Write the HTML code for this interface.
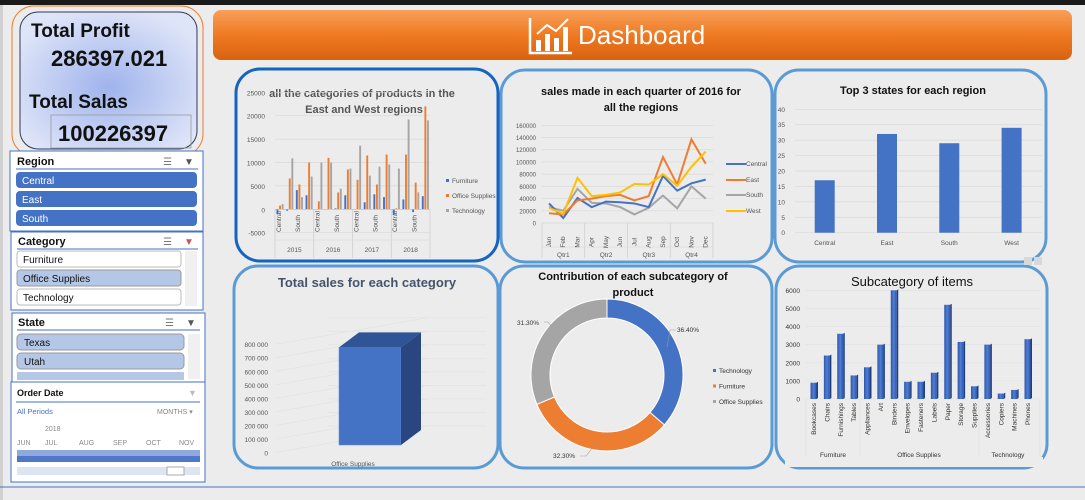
<!DOCTYPE html>
<html><head><meta charset="utf-8">
<style>
html,body{margin:0;padding:0;background:#ececec;width:1085px;height:500px;overflow:hidden;font-family:"Liberation Sans",sans-serif}
svg{display:block}
</style></head>
<body>
<svg id="s" width="1085" height="500" viewBox="0 0 1085 500" xmlns="http://www.w3.org/2000/svg" font-family="Liberation Sans, sans-serif">
<defs>
<linearGradient id="og" x1="0" y1="0" x2="0" y2="1"><stop offset="0" stop-color="#f7a05a"/><stop offset="0.5" stop-color="#ef7a22"/><stop offset="1" stop-color="#d9620f"/></linearGradient>
<radialGradient id="kg" cx="0.5" cy="0.55" r="0.6"><stop offset="0" stop-color="#9fb3ec"/><stop offset="1" stop-color="#dfe5f8"/></radialGradient>
<linearGradient id="bg3" x1="0" y1="0" x2="1" y2="0"><stop offset="0" stop-color="#2d55a8"/><stop offset="0.5" stop-color="#4f7fd6"/><stop offset="1" stop-color="#2d55a8"/></linearGradient>
</defs>
<rect x="0" y="0" width="1085" height="5" fill="#1a1a1a"/>
<rect x="0" y="5" width="3" height="495" fill="#d0d0d0"/>
<line x1="0" y1="487" x2="1085" y2="487" stroke="#4472c4" stroke-width="1"/>

<!-- KPI -->
<rect x="12" y="6" width="191" height="150" rx="22" fill="none" stroke="#ed7d31" stroke-width="1"/>
<rect x="20" y="12" width="177" height="137" rx="18" fill="url(#kg)" stroke="#2f3b5a" stroke-width="1"/>
<text x="31" y="37" font-size="19" font-weight="bold" fill="#111">Total Profit</text>
<text x="51" y="66" font-size="22" font-weight="bold" fill="#111">286397.021</text>
<text x="29" y="108" font-size="19" font-weight="bold" fill="#111">Total Salas</text>
<rect x="51" y="115" width="140" height="33" fill="none" stroke="#9a9a9a" stroke-width="0.8"/>
<text x="58" y="141" font-size="22" font-weight="bold" fill="#111">100226397</text>

<!-- Header -->
<rect x="213" y="10" width="859" height="50" rx="8" fill="url(#og)"/>
<g stroke="#fff" fill="none" stroke-width="2.5">
<polyline points="530,18 530,53 572,53"/>
<rect x="536" y="40" width="5" height="11" fill="#fff" stroke="none"/>
<rect x="545" y="34" width="5" height="17" fill="#fff" stroke="none"/>
<rect x="554" y="38" width="5" height="13" fill="#fff" stroke="none"/>
<rect x="563" y="27" width="5" height="24" fill="#fff" stroke="none"/>
<polyline points="537,34 547,25 556,31 568,19" stroke-width="2"/>
</g>
<text x="578" y="44" font-size="26" fill="#fff">Dashboard</text>

<!-- Region slicer -->
<g>
<rect x="10" y="151" width="193" height="80" fill="#fff" stroke="#4472c4"/>
<text x="17" y="165" font-size="11" font-weight="bold" fill="#111">Region</text>
<text x="163" y="165" font-size="10" fill="#777">☰</text><text x="184" y="165" font-size="10" fill="#555">▼</text>
<line x1="16" y1="169" x2="198" y2="169" stroke="#4472c4"/>
<rect x="16" y="172" width="181" height="16" rx="4" fill="#4472c4"/>
<text x="22" y="184" font-size="10" fill="#fff">Central</text>
<rect x="16" y="191" width="181" height="16" rx="4" fill="#4472c4"/>
<text x="22" y="203" font-size="10" fill="#fff">East</text>
<rect x="16" y="210" width="181" height="16" rx="4" fill="#4472c4"/>
<text x="22" y="222" font-size="10" fill="#fff">South</text>
</g>
<!-- Category slicer -->
<g>
<rect x="11" y="232" width="192" height="78" fill="#fff" stroke="#4472c4"/>
<text x="18" y="245" font-size="11" font-weight="bold" fill="#111">Category</text>
<text x="163" y="245" font-size="10" fill="#777">☰</text><text x="184" y="245" font-size="10" fill="#c55">▼</text>
<line x1="17" y1="249" x2="198" y2="249" stroke="#4472c4"/>
<rect x="17" y="251" width="164" height="16" rx="3" fill="#fff" stroke="#bbb"/>
<text x="23" y="263" font-size="10" fill="#111">Furniture</text>
<rect x="17" y="270" width="164" height="16" rx="3" fill="#b4c7e7" stroke="#999"/>
<text x="23" y="282" font-size="10" fill="#111">Office Supplies</text>
<rect x="17" y="289" width="164" height="16" rx="3" fill="#fff" stroke="#bbb"/>
<text x="23" y="301" font-size="10" fill="#111">Technology</text>
<rect x="185" y="251" width="12" height="55" fill="#f0f0f0"/>
</g>
<!-- State slicer -->
<g>
<rect x="12" y="313" width="193" height="69" fill="#fff" stroke="#4472c4"/>
<text x="18" y="326" font-size="11" font-weight="bold" fill="#111">State</text>
<text x="165" y="326" font-size="10" fill="#777">☰</text><text x="186" y="326" font-size="10" fill="#555">▼</text>
<line x1="17" y1="330" x2="200" y2="330" stroke="#4472c4"/>
<rect x="17" y="334" width="167" height="16" rx="4" fill="#b4c7e7" stroke="#999"/>
<text x="24" y="346" font-size="10" fill="#111">Texas</text>
<rect x="17" y="353" width="167" height="16" rx="4" fill="#b4c7e7" stroke="#999"/>
<text x="24" y="365" font-size="10" fill="#111">Utah</text>
<rect x="17" y="372" width="167" height="8" fill="#b4c7e7"/>
<rect x="188" y="334" width="12" height="45" fill="#f0f0f0"/>
</g>
<!-- Order date timeline -->
<g>
<rect x="11" y="382" width="194" height="100" fill="#fff" stroke="#4472c4"/>
<text x="17" y="396" font-size="9" font-weight="bold" fill="#111">Order Date</text>
<text x="188" y="396" font-size="9" fill="#bbb">▼</text>
<line x1="16" y1="402" x2="200" y2="402" stroke="#4472c4"/>
<text x="17" y="414" font-size="7.5" fill="#4472c4">All Periods</text>
<text x="157" y="414" font-size="7" fill="#888">MONTHS ▾</text>
<text x="45" y="431" font-size="7" fill="#888">2018</text>
<text x="17" y="445" font-size="7" fill="#888">JUN</text>
<text x="45" y="445" font-size="7" fill="#888">JUL</text>
<text x="79" y="445" font-size="7" fill="#888">AUG</text>
<text x="113" y="445" font-size="7" fill="#888">SEP</text>
<text x="146" y="445" font-size="7" fill="#888">OCT</text>
<text x="179" y="445" font-size="7" fill="#888">NOV</text>
<rect x="17" y="450" width="183" height="12" fill="#8fa9dc"/>
<rect x="17" y="456" width="183" height="6" fill="#4f78c8"/>
<rect x="17" y="467" width="183" height="8" fill="#dde5f3"/>
<rect x="167" y="467" width="17" height="8" fill="#fff" stroke="#aaa"/>
</g>

<!-- Cards -->
<rect x="236" y="69" width="262" height="192" rx="24" fill="#ececec" stroke="#1565c0" stroke-width="3"/>
<rect x="501" y="70" width="271" height="192" rx="24" fill="#ececec" stroke="#5b9bd5" stroke-width="3"/>
<rect x="775" y="70" width="271" height="192" rx="24" fill="#ececec" stroke="#5b9bd5" stroke-width="3"/>
<rect x="234" y="266" width="264" height="202" rx="24" fill="#ececec" stroke="#5b9bd5" stroke-width="3"/>
<rect x="500" y="266" width="272" height="202" rx="24" fill="#ececec" stroke="#5b9bd5" stroke-width="3"/>
<rect x="776" y="266" width="271" height="202" rx="24" fill="#ececec" stroke="#5b9bd5" stroke-width="3"/>

<text x="362" y="97" font-size="11" font-weight="bold" fill="#555" text-anchor="middle">all the categories of products in the</text>
<text x="364" y="113" font-size="11" font-weight="bold" fill="#555" text-anchor="middle">East and West regions</text>
<text x="641" y="95" font-size="11" font-weight="bold" fill="#111" text-anchor="middle">sales made in each quarter of 2016 for</text>
<text x="641" y="111" font-size="11" font-weight="bold" fill="#111" text-anchor="middle">all the regions</text>
<text x="913" y="94" font-size="11" font-weight="bold" fill="#111" text-anchor="middle">Top 3 states for each region</text>
<text x="367" y="287" font-size="13" font-weight="bold" fill="#44546a" text-anchor="middle">Total sales for each category</text>
<text x="633" y="280" font-size="11" font-weight="bold" fill="#111" text-anchor="middle">Contribution of each subcategory of</text>
<text x="633" y="296" font-size="11" font-weight="bold" fill="#111" text-anchor="middle">product</text>
<text x="912" y="286" font-size="13" fill="#111" text-anchor="middle">Subcategory of items</text>
<g id="charts"></g>
</svg>
<script>
// Chart 1
const c1Years = ["2015","2016","2017","2018"];
const c1Groups = ["Central","","South",""];
const c1Furniture = [-1000,-300,4100,3000, 0,0,200,3000, 0,1500,3200,2600, -1200,2100,-600,2800];
const c1Office = [800,6600,5300,10000, 1700,11000,3600,8500, 6300,11500,5300,11700, 200,11700,5700,22000];
const c1Tech = [1100,10900,2600,7000, 10000,10000,4400,8700, 13600,7200,9100,9600, 8700,19200,3600,19000];
const c1Ticks = [-5000,0,5000,10000,15000,20000,25000];
// Chart 2
const c2Months = ["Jan","Feb","Mar","Apr","May","Jun","Jul","Aug","Sep","Oct","Nov","Dec"];
const c2Quarters = ["Qtr1","Qtr2","Qtr3","Qtr4"];
const c2Central = [32000,8000,41000,26000,35000,34000,32000,26000,77000,53000,65000,71000];
const c2East = [16000,14000,37000,40000,44000,46000,37000,44000,108000,63000,137000,97000];
const c2South = [26000,20000,56000,33000,32000,26000,14000,25000,45000,24000,60000,40000];
const c2West = [25000,15000,74000,44000,46000,50000,64000,63000,80000,61000,92000,117000];
const c2Ticks = [0,20000,40000,60000,80000,100000,120000,140000,160000];
// Chart 3
const c3Regions = ["Central","East","South","West"];
const c3Values = [17,32,29,34];
const c3Ticks = [0,5,10,15,20,25,30,35,40];
// Chart 4
const c4Categories = ["Office Supplies"];
const c4Values = [780000];
const c4Ticks = [0,100000,200000,300000,400000,500000,600000,700000,800000];
// Chart 5
const c5Labels = ["Technology","Furniture","Office Supplies"];
const c5Values = [36.4,32.3,31.3];
// Chart 6
const c6Subcats = ["Bookcases","Chairs","Furnishings","Tables","Appliances","Art","Binders","Envelopes","Fasteners","Labels","Paper","Storage","Supplies","Accessories","Copiers","Machines","Phones"];
const c6Values = [900,2400,3600,1300,1750,3000,6000,950,950,1450,5200,3150,700,3000,300,500,3300];
const c6Ticks = [0,1000,2000,3000,4000,5000,6000];

const NS="http://www.w3.org/2000/svg";
const root=document.getElementById('charts');
function mk(tag,attrs,parent){const e=document.createElementNS(NS,tag);for(const k in attrs)e.setAttribute(k,attrs[k]);(parent||root).appendChild(e);return e;}
function txt(x,y,s,size,fill,anchor,rot){const t=mk('text',{x:x,y:y,'font-size':size,fill:fill,'text-anchor':anchor||'start'});if(rot)t.setAttribute('transform','rotate(-90 '+x+' '+y+')');t.textContent=s;return t;}
const BLUE="#4472c4",ORANGE="#ed7d31",GRAY="#a5a5a5",YEL="#ffc000";

// ---- Chart 1
(function(){
 const y0=209.3, k=(209.3-92.3)/25000; const y=v=>y0-v*k;
 const xL=275, xR=430; const gw=(xR-xL)/16;
 const g=mk('g',{});
 
 
 c1Ticks.forEach(t=>{mk('line',{x1:xL,x2:xR,y1:y(t),y2:y(t),stroke:'#d9d9d9','stroke-width':0.7},g);txt(xL-10,y(t)+3,String(t),6.5,'#555','end');});
 const series=[[c1Furniture,BLUE],[c1Office,ORANGE],[c1Tech,GRAY]];
 for(let i=0;i<16;i++){
  series.forEach((s,j)=>{const v=s[0][i];const bx=xL+i*gw+1.5+j*2.6;
   const r=mk('rect',{x:bx,y:Math.min(y(v),y0),width:1.9,height:Math.abs(y(v)-y0),fill:s[1]},g);
   
   });
 }
 mk('line',{x1:xL,x2:xR,y1:y0,y2:y0,stroke:'#bbb','stroke-width':0.7},g);
 for(let yi=0;yi<4;yi++){const bx=xL+yi*4*gw;
  mk('line',{x1:bx,x2:bx,y1:y0,y2:258,stroke:'#ccc','stroke-width':0.7},g);
  c1Groups.forEach((n,gi)=>{if(n)txt(bx+(gi+0.6)*gw,232,n,6.5,'#555','start',true);});
  txt(bx+2*gw,252,c1Years[yi],6.5,'#555','middle');}
 mk('line',{x1:xR,x2:xR,y1:y0,y2:258,stroke:'#ccc','stroke-width':0.7},g);
 mk('line',{x1:xL,x2:xR,y1:240,y2:240,stroke:'#ddd','stroke-width':0.7},g);
 [["Furniture",BLUE,183],["Office Supplies",ORANGE,198],["Technology",GRAY,213]].forEach(l=>{mk('rect',{x:446,y:l[2]-4,width:3,height:3,fill:l[1]},g);txt(452,l[2],l[0],6.5,'#555');});
})();

// ---- Chart 2
(function(){
 const y0=223, k=(223-125.3)/160000; const y=v=>y0-v*k;
 const x0=549, dx=(705.7-549)/11; const x=i=>x0+i*dx;
 const g=mk('g',{});
 
 
 c2Ticks.forEach(t=>{mk('line',{x1:542,x2:713,y1:y(t),y2:y(t),stroke:'#d9d9d9','stroke-width':0.7},g);txt(536,y(t)+2.5,String(t),6,'#555','end');});
 c2Months.forEach((m,i)=>txt(x(i)+2,242,m,6.5,'#555','middle',true));
 for(let q=0;q<=4;q++){const bx=542+q*dx*3;mk('line',{x1:bx,x2:bx,y1:y0,y2:258,stroke:'#ccc','stroke-width':0.7},g);}
 mk('line',{x1:542,x2:713,y1:247,y2:247,stroke:'#ddd','stroke-width':0.7},g);
 c2Quarters.forEach((q,i)=>txt(542+(i*3+1.5)*dx,257,q,6.5,'#555','middle'));
 [[c2South,GRAY],[c2Central,BLUE],[c2East,ORANGE],[c2West,YEL]].forEach(s=>{
  const p=mk('polyline',{points:s[0].map((v,i)=>x(i)+','+y(v)).join(' '),fill:'none',stroke:s[1],'stroke-width':2},g);
  
  });
 [["Central",BLUE,166],["East",ORANGE,182],["South",GRAY,197],["West",YEL,213]].forEach(l=>{mk('line',{x1:726,x2:746,y1:l[2]-2,y2:l[2]-2,stroke:l[1],'stroke-width':2},g);txt(746,l[2],l[0],6.5,'#555');});
})();

// ---- Chart 3
(function(){
 const y0=232.7, k=(232.7-109.3)/40; const y=v=>y0-v*k;
 const g=mk('g',{});
 
 
 c3Ticks.forEach(t=>{mk('line',{x1:795,x2:1042,y1:y(t),y2:y(t),stroke:'#d9d9d9','stroke-width':0.7},g);txt(785,y(t)+2.5,String(t),6.5,'#555','end');});
 c3Regions.forEach((r,i)=>{const cx=824.7+i*62.3;
  const b=mk('rect',{x:cx-10,y:y(c3Values[i]),width:20,height:y0-y(c3Values[i]),fill:BLUE},g);
  
  
  txt(cx,245,r,6.5,'#555','middle');});
 mk('rect',{x:1024,y:257,width:8,height:8,fill:'#d8d8d8'},g);mk('rect',{x:1034,y:257,width:8,height:8,fill:'#d8d8d8'},g);
})();

// ---- Chart 4
(function(){
 const y0=453, k=(453-344.7)/800000; const y=v=>y0-v*k;
 const g=mk('g',{});
 
 
 c4Ticks.forEach(t=>{mk('line',{x1:276,x2:428,y1:y(t)-0.5,y2:y(t)-27,stroke:'#e2e2e2','stroke-width':0.7},g);
  mk('line',{x1:328,x2:486,y1:y(t)-27,y2:y(t)-27,stroke:'#e2e2e2','stroke-width':0.7},g);
  txt(268,y(t)+2.5,t===0?'0':t.toLocaleString('en-US').replace(/,/g,' '),6.5,'#555','end');});
 const top=y(c4Values[0]), dep=15, fx=339, fw=62;
 const f=mk('rect',{x:fx,y:top,width:fw,height:y0-top-8,fill:BLUE,stroke:'#6d8fd6','stroke-width':0.6},g);
 
 
 mk('polygon',{points:`${fx},${top} ${fx+fw},${top} ${fx+fw+20},${top-dep} ${fx+20},${top-dep}`,fill:'#2f5597'},g);
 mk('polygon',{points:`${fx+fw},${top} ${fx+fw+20},${top-dep} ${fx+fw+20},${y0-8-dep} ${fx+fw},${y0-8}`,fill:'#2a4680'},g);
 txt(353,466,c4Categories[0],6.5,'#555','middle');
})();

// ---- Chart 5
(function(){
 const cx=607, cy=375, R=76, r=57;
 const g=mk('g',{});
 
 
 const cols=[BLUE,ORANGE,GRAY]; const tot=c5Values.reduce((a,b)=>a+b,0);
 let a=-Math.PI/2;
 c5Values.forEach((v,i)=>{const a2=a+v/tot*2*Math.PI;const lg=(a2-a)>Math.PI?1:0;
  const p=(rr,aa)=>(cx+rr*Math.cos(aa)).toFixed(2)+','+(cy+rr*Math.sin(aa)).toFixed(2);
  const s=mk('path',{d:`M${p(R,a)} A${R},${R} 0 ${lg} 1 ${p(R,a2)} L${p(r,a2)} A${r},${r} 0 ${lg} 0 ${p(r,a)} Z`,fill:cols[i],stroke:'#fff','stroke-width':1},g);
  
  
  a=a2;});
 txt(677,332,c5Values[0].toFixed(2)+'%',6.5,'#333');
 txt(553,458,c5Values[1].toFixed(2)+'%',6.5,'#333');
 txt(517,325,c5Values[2].toFixed(2)+'%',6.5,'#333');
 mk('polyline',{points:'676,330 670,330 667,347',fill:'none',stroke:'#999','stroke-width':0.6},g);
 mk('polyline',{points:'580,456 586,456 597,442',fill:'none',stroke:'#999','stroke-width':0.6},g);
 mk('polyline',{points:'544,322 548,322 552,327',fill:'none',stroke:'#999','stroke-width':0.6},g);
 c5Labels.forEach((l,i)=>{const ly=373+i*15.5;mk('rect',{x:713,y:ly-4,width:3,height:3,fill:cols[i]},g);txt(719,ly,l,6.5,'#333');});
})();

// ---- Chart 6
(function(){
 const y0=399, k=(399-290.3)/6000; const y=v=>y0-v*k;
 const x0=814, dx=(1028-814)/16;
 const g=mk('g',{});
 
 
 c6Ticks.forEach(t=>{mk('line',{x1:806,x2:1040,y1:y(t),y2:y(t),stroke:'#e0e0e0','stroke-width':0.6},g);txt(800,y(t)+2.5,String(t),6.5,'#333','end');});
 c6Subcats.forEach((s,i)=>{const cx=x0+i*dx;const top=y(c6Values[i]);
  const b=mk('rect',{x:cx-3.5,y:top,width:6,height:y0-top,fill:'url(#bg3)'},g);
  
  
  mk('polygon',{points:`${cx+2.5},${top} ${cx+4},${top-1} ${cx+4},${y0-1} ${cx+2.5},${y0}`,fill:'#1f3f80'},g);
  txt(cx+2,403,s,6.5,'#333','end',true);});
 [[806,0],[860,0],[979,0],[1040,0]].forEach(p=>mk('line',{x1:p[0],x2:p[0],y1:399,y2:456,stroke:'#ddd','stroke-width':0.6},g));
 txt(833,457,'Furniture',6.5,'#333','middle');txt(919,457,'Office Supplies',6.5,'#333','middle');txt(1008,457,'Technology',6.5,'#333','middle');
 mk('rect',{x:785,y:457,width:258,height:10,fill:'#ececec'},g);
})();
</script>
</body></html>
